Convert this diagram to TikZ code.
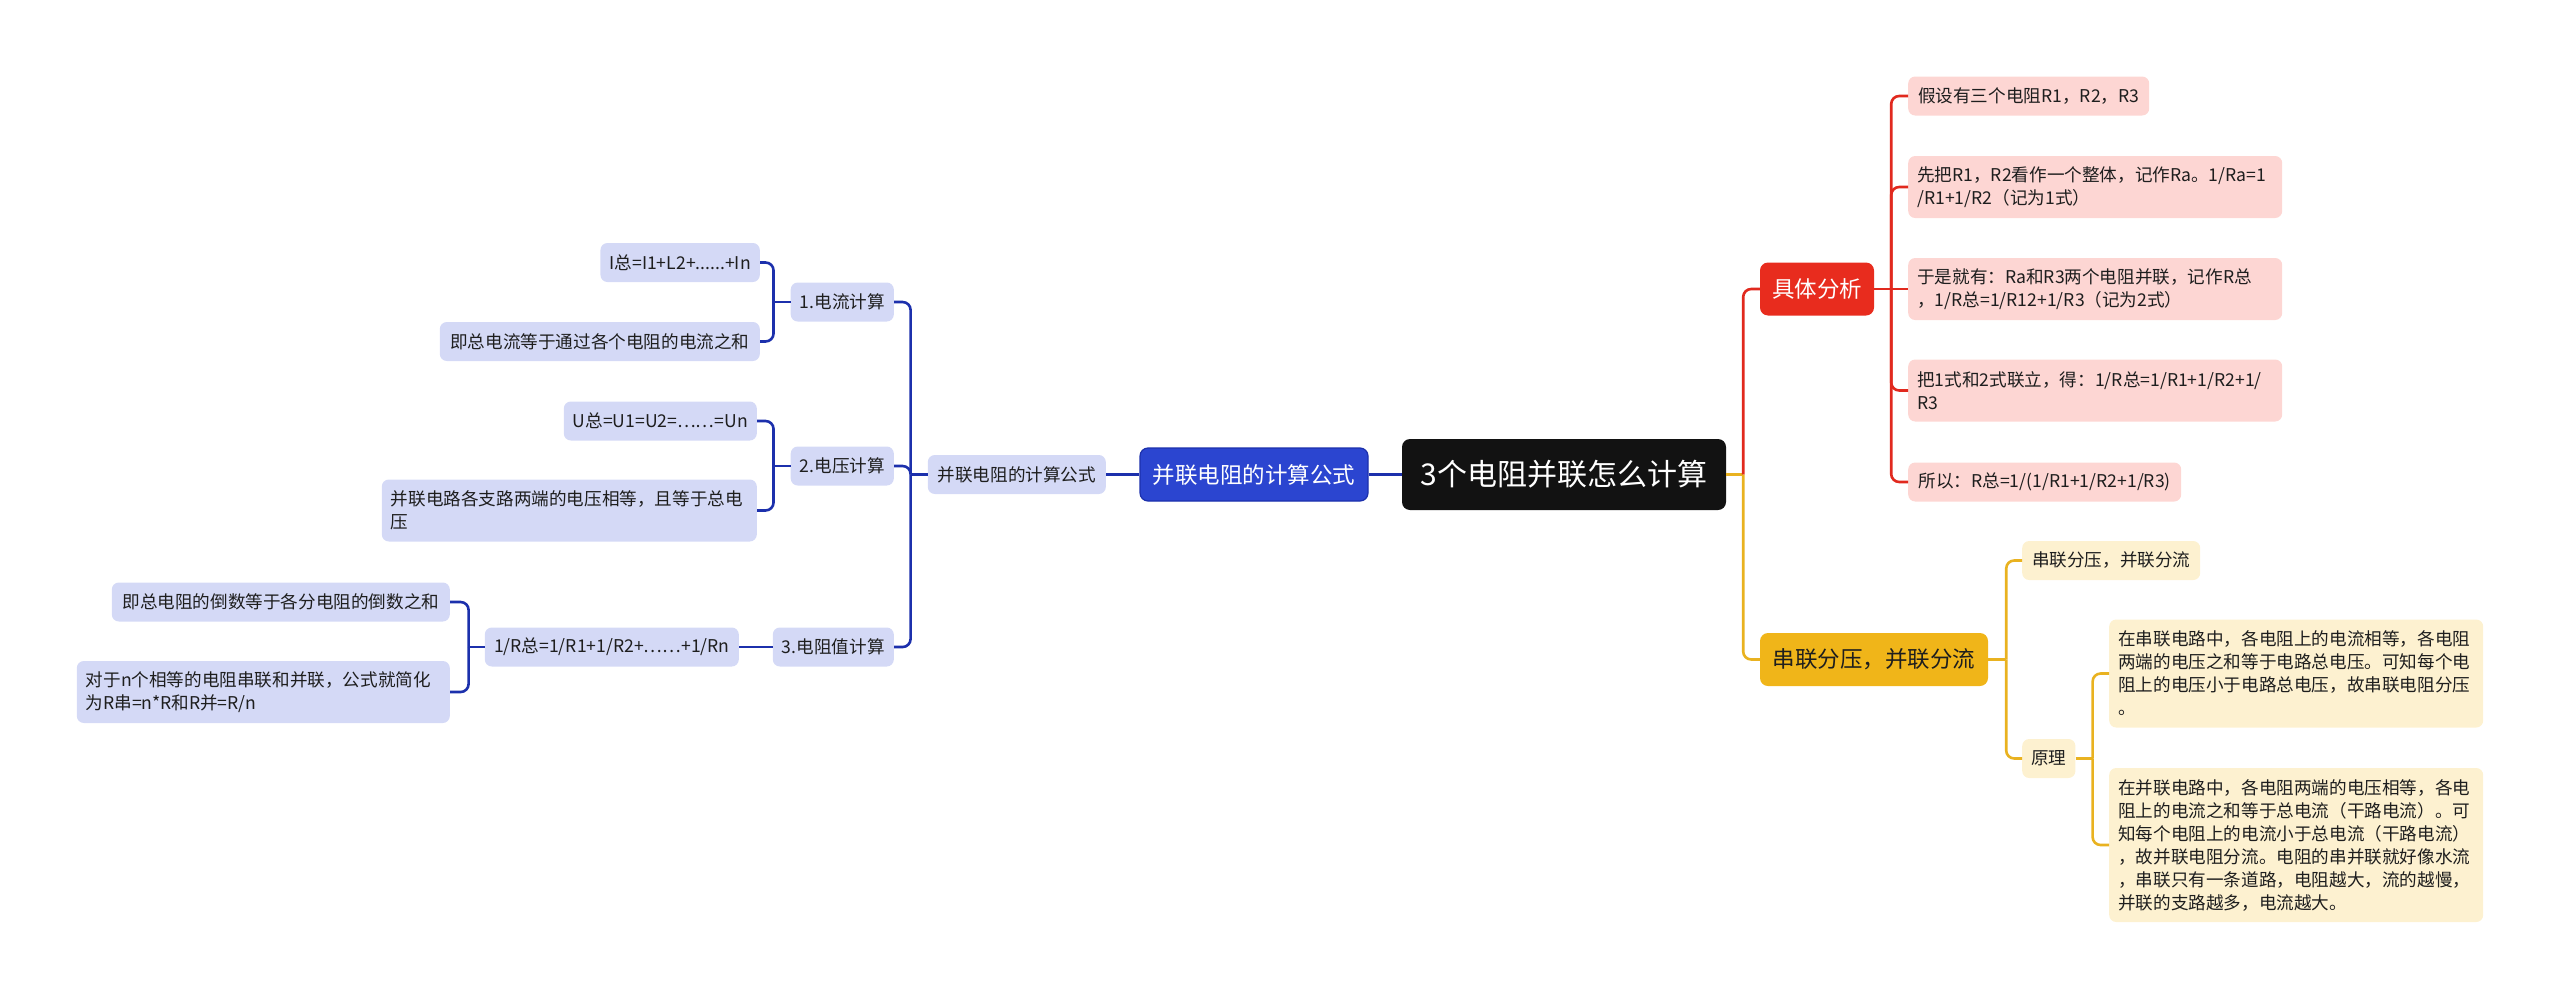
\documentclass[tikz,border=0pt]{standalone}
\usepackage{fontspec}
\setmainfont{Noto Sans CJK SC}
\definecolor{rootc}{HTML}{121212}
\definecolor{bcol}{HTML}{1C30AC}
\definecolor{bfill}{HTML}{2B45D0}
\definecolor{lav}{HTML}{D4D9F6}
\definecolor{rcol}{HTML}{E1291E}
\definecolor{rfill}{HTML}{E82C1E}
\definecolor{pinkc}{HTML}{FDD6D3}
\definecolor{ycol}{HTML}{E9B220}
\definecolor{yfill}{HTML}{F0B519}
\definecolor{cream}{HTML}{FDF1D0}
\definecolor{ink}{HTML}{1E1E1E}

\begin{document}
\begin{tikzpicture}[x=1pt,y=-1pt,
  root/.style={fill=rootc,text=white,rounded corners=8pt,inner sep=0pt,minimum width=324pt,minimum height=71pt,font=\fontsize{30}{36}\selectfont},
  main/.style={rounded corners=8pt,text=white,inner sep=0pt,minimum height=53pt,font=\fontsize{22.5}{27}\selectfont},
  leaf/.style={rounded corners=7pt,inner xsep=9pt,inner ysep=2pt,align=left,text=ink,minimum height=39pt,font=\fontsize{17.6}{23}\selectfont},
  bleaf/.style={leaf,fill=lav},
  rleaf/.style={leaf,fill=pinkc},
  yleaf/.style={leaf,fill=cream},
  nrows/.style={minimum height=16pt+23pt*#1},
  bl/.style={draw=bcol,line width=2.6pt},
  rl/.style={draw=rcol,line width=2.6pt},
  yl/.style={draw=ycol,line width=2.6pt}]
\useasboundingbox (0,0) rectangle (2560,999);

\node[root] (r) at (1564,474.5) {3个电阻并联怎么计算};
\node[main,fill=bfill,draw=bcol,line width=1.2pt,minimum width=228pt] (b) at (1254,474.5) {并联电阻的计算公式};
\node[main,fill=rfill,minimum width=114pt] (fx) at (1817,289) {具体分析};
\node[main,fill=yfill,text=ink,minimum width=228pt] (cl) at (1874,659.5) {串联分压，并联分流};

\node[bleaf,anchor=east,minimum width=178pt] (gs) at (1106,474.5) {并联电阻的计算公式};
\node[bleaf,anchor=east,minimum width=100pt] (dl) at (894,302) {1.电流计算};
\node[bleaf,anchor=east,minimum width=103pt] (dy) at (894,466) {2.电压计算};
\node[bleaf,anchor=east,minimum width=121pt] (dz) at (894,647) {3.电阻值计算};
\node[bleaf,anchor=east,minimum width=158pt] (dl1) at (760,262.5) {I总=I1+L2+......+In};
\node[bleaf,anchor=east,minimum width=320pt] (dl2) at (760,341.5) {即总电流等于通过各个电阻的电流之和};
\node[bleaf,anchor=east,minimum width=193pt] (dy1) at (757,421) {U总=U1=U2=……=Un};
\node[bleaf,anchor=east,text width=357pt,nrows=2] (dy2) at (757,510.5) {并联电路各支路两端的电压相等，且等于总电\\压};
\node[bleaf,anchor=east,minimum width=254pt] (dz1) at (739,647) {1/R总=1/R1+1/R2+……+1/Rn};
\node[bleaf,anchor=east,minimum width=338pt] (dz2) at (450,602) {即总电阻的倒数等于各分电阻的倒数之和};
\node[bleaf,anchor=east,text width=355pt,nrows=2] (dz3) at (450,692) {对于n个相等的电阻串联和并联，公式就简化\\为R串=n*R和R并=R/n};

\node[rleaf,anchor=west,minimum width=241pt] (a1) at (1908,96) {假设有三个电阻R1，R2，R3};
\node[rleaf,anchor=west,text width=356pt,nrows=2] (a2) at (1908,187) {先把R1，R2看作一个整体，记作Ra。1/Ra=1\\/R1+1/R2（记为1式）};
\node[rleaf,anchor=west,text width=356pt,nrows=2] (a3) at (1908,289) {于是就有：Ra和R3两个电阻并联，记作R总\\，1/R总=1/R12+1/R3（记为2式）};
\node[rleaf,anchor=west,text width=356pt,nrows=2] (a4) at (1908,390.5) {把1式和2式联立，得：1/R总=1/R1+1/R2+1/\\R3};
\node[rleaf,anchor=west,minimum width=273pt] (a5) at (1908,482) {所以：R总=1/(1/R1+1/R2+1/R3)};

\node[yleaf,anchor=west,minimum width=178pt] (y1) at (2022,560.5) {串联分压，并联分流};
\node[yleaf,anchor=west,minimum width=53pt] (y2) at (2022,758.5) {原理};
\node[yleaf,anchor=west,text width=356pt,nrows=4] (y3) at (2109,673.5) {在串联电路中，各电阻上的电流相等，各电阻\\两端的电压之和等于电路总电压。可知每个电\\阻上的电压小于电路总电压，故串联电阻分压\\。};
\node[yleaf,anchor=west,text width=356pt,nrows=6] (y4) at (2109,845) {在并联电路中，各电阻两端的电压相等，各电\\阻上的电流之和等于总电流（干路电流）。可\\知每个电阻上的电流小于总电流（干路电流）\\，故并联电阻分流。电阻的串并联就好像水流\\，串联只有一条道路，电阻越大，流的越慢，\\并联的支路越多，电流越大。};

\draw[bl] (r.west) -- (b.east);
\draw[bl] (b.west) -- (gs.east);
\draw[bl] (gs.west) -- ++(-17,0) coordinate (j1);
\foreach \c in {dl,dy,dz} \draw[bl,rounded corners=8pt] (j1) |- (\c.east);
\draw[bl] (dl.west) -- ++(-17,0) coordinate (j2);
\foreach \c in {dl1,dl2} \draw[bl,rounded corners=8pt] (j2) |- (\c.east);
\draw[bl] (dy.west) -- ++(-17,0) coordinate (j3);
\foreach \c in {dy1,dy2} \draw[bl,rounded corners=8pt] (j3) |- (\c.east);
\draw[bl] (dz.west) -- (dz1.east);
\draw[bl] (dz1.west) -- ++(-16,0) coordinate (j4);
\foreach \c in {dz2,dz3} \draw[bl,rounded corners=8pt] (j4) |- (\c.east);

\draw[yl] (r.east) -- ++(17,0) coordinate (j5);
\draw[rl,rounded corners=8pt] (j5) |- (fx.west);
\draw[yl,rounded corners=8pt] (j5) |- (cl.west);
\draw[rl] (fx.east) -- ++(17,0) coordinate (j6);
\foreach \c in {a1,a2,a4,a5} \draw[rl,rounded corners=8pt] (j6) |- (\c.west);
\draw[rl] (j6) -- (a3.west);
\draw[yl] (cl.east) -- ++(18,0) coordinate (j7);
\foreach \c in {y1,y2} \draw[yl,rounded corners=8pt] (j7) |- (\c.west);
\draw[yl] (y2.east) -- ++(17,0) coordinate (j8);
\foreach \c in {y3,y4} \draw[yl,rounded corners=8pt] (j8) |- (\c.west);
\end{tikzpicture}
\end{document}
